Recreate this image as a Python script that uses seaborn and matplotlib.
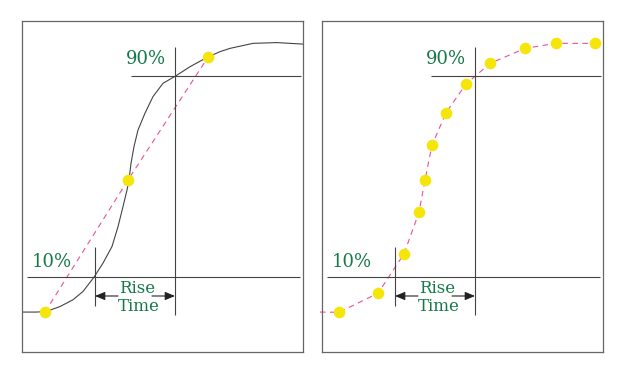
import numpy as np
import pandas as pd
import matplotlib
matplotlib.use("Agg")
import matplotlib.pyplot as plt
import seaborn as sns

# step response (time units, amplitude in %)
curve_t = [0.0, 1.4, 2.4, 3.8, 5.1, 6.1, 7.2, 8.1, 9.0, 9.6, 10.1, 10.5, 10.7,
           10.9, 11.2, 11.6, 12.3, 13.1, 14.1, 15.4, 16.8, 18.5, 19.8, 20.8,
           23.1, 25.5, 28.1]
curve_v = [-4.0, -4.0, -3.8, -1.8, 0.9, 4.2, 9.9, 15.5, 22.1, 30.0, 38.0, 44.6, 48.6,
           55.2, 61.9, 68.5, 75.2, 81.8, 87.1, 90.1, 93.7, 97.4, 99.7, 101.0,
           103.0, 103.3, 102.7]

# coarse sampling (left) and fine sampling (right)
coarse_t = [2.3, 10.6, 18.6]
coarse_v = [-4.0, 48.6, 97.5]
fine_t = [-0.2, 1.7, 5.6, 8.2, 9.7, 10.3, 11.0, 12.4, 14.4, 16.8, 20.3, 23.4, 27.3]
fine_v = [-4.0, -4.1, 3.5, 19.2, 35.7, 48.6, 62.4, 75.4, 86.8, 95.0, 101.0, 103.0, 103.0]
fine_marker = [False] + [True] * 12

levels = [10, 90]
level_labels = ["10%", "90%"]
t10, t90 = 7.3, 15.3

sns.set_style("white")
plt.rcParams["font.family"] = ["DejaVu Serif", "DejaVu Sans"]

green = "#17794a"
pink = "#e8509a"
yellow = "#f4e60a"
grey = "#444444"

fig = plt.figure(figsize=(6.3, 3.78), dpi=100)
ax1 = fig.add_axes([22 / 630, 26 / 378, 281 / 630, 331 / 378])
ax2 = fig.add_axes([322 / 630, 26 / 378, 281 / 630, 331 / 378])

curve = pd.DataFrame({"t": curve_t, "v": curve_v})
coarse = pd.DataFrame({"t": coarse_t, "v": coarse_v})
fine = pd.DataFrame({"t": fine_t, "v": fine_v, "m": fine_marker})

sns.lineplot(data=curve, x="t", y="v", ax=ax1, color=grey, lw=0.8,
             sort=False, estimator=None)
sns.lineplot(data=coarse, x="t", y="v", ax=ax1, color=pink, lw=0.8,
             linestyle=(0, (5, 4)), sort=False, estimator=None)
sns.scatterplot(data=coarse, x="t", y="v", ax=ax1, color=yellow, s=70,
                linewidth=0, zorder=5)

ln = sns.lineplot(data=fine, x="t", y="v", ax=ax2, color=pink, lw=0.8,
                  linestyle=(0, (5, 4)), sort=False, estimator=None)
ln.lines[-1].set_clip_on(False)
sns.scatterplot(data=fine[fine["m"]], x="t", y="v", ax=ax2, color=yellow,
                s=70, linewidth=0, zorder=5)

for ax in (ax1, ax2):
    ax.set_xlim(0, 28.1)
    ax.set_ylim(-19.9, 111.9)
    ax.set_xticks([])
    ax.set_yticks([])
    ax.set_xlabel("")
    ax.set_ylabel("")
    for sp in ax.spines.values():
        sp.set_color("#666666")
        sp.set_linewidth(0.9)
    ax.hlines(levels[0], 0.5, 27.8, color=grey, lw=0.8)
    ax.hlines(levels[1], 10.9, 27.9, color=grey, lw=0.8)
    ax.vlines(t10, -1.5, 21.9, color=grey, lw=0.8)
    ax.vlines(t90, -5.3, 101.5, color=grey, lw=0.8)
    ax.text(3.0, 16.0, level_labels[0], color=green, fontsize=13,
            ha="center", va="center")
    ax.text(12.4, 96.8, level_labels[1], color=green, fontsize=13,
            ha="center", va="center")
    ax.text(11.5, 5.4, "Rise", color=green, fontsize=12, ha="center", va="center")
    ax.text(11.7, -1.9, "Time", color=green, fontsize=12, ha="center", va="center")
    arrow = dict(arrowstyle="-|>,head_length=0.6,head_width=0.25",
                 color="#222222", lw=0.8, shrinkA=0, shrinkB=0)
    ax.annotate("", xy=(t10, 2.4), xytext=(9.6, 2.4), arrowprops=arrow)
    ax.annotate("", xy=(t90, 2.4), xytext=(13.0, 2.4), arrowprops=arrow)

fig.savefig("out.png", dpi=100)
